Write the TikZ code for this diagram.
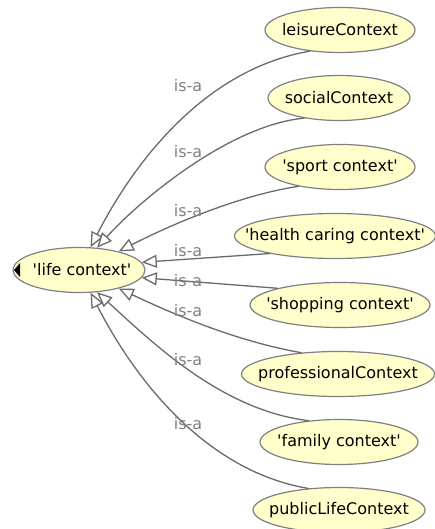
\documentclass[tikz,border=0pt]{standalone}
\usepackage{fontspec}
\setmainfont{DejaVu Sans}[Ligatures=TeXOff]
\usepackage{tikz}
\usetikzlibrary{arrows.meta,shapes.geometric}
\usepackage{xcolor}
\definecolor{clsfill}{HTML}{FFFFCC}
\definecolor{clsborder}{HTML}{808080}
\definecolor{edgegray}{HTML}{6A6A6A}
\definecolor{labelgray}{HTML}{808080}

\begin{document}
\begin{tikzpicture}[x=1pt,y=-1pt,font=\fontsize{16}{19}\selectfont,line cap=round,
  cls/.style={ellipse,draw=clsborder,fill=clsfill,line width=1.2pt,inner xsep=-25pt,inner ysep=0pt,minimum height=45pt},
  isa/.style={draw=edgegray,line width=1.3pt,-{Triangle[length=15pt,width=13pt,fill=white]}},
  isalabel/.style={text=labelgray,inner sep=0pt}]
\useasboundingbox (0,0) rectangle (435,529);
% classes
\node[cls,minimum width=132pt] (life) at (79,270) {\hspace*{6pt}'life context'};
\fill[black] (14,270) -- (20,263) -- (20,277) -- cycle;
\node[cls,minimum width=150pt] (leisure) at (340,30) {leisureContext};
\node[cls,minimum width=142pt] (social) at (339,98) {socialContext};
\node[cls,minimum width=150pt] (sport) at (340,167) {'sport context'};
\node[cls,minimum width=201pt] (health) at (335,236) {'health caring context'};
\node[cls,minimum width=180pt] (shopping) at (340,305) {'shopping context'};
\node[cls,minimum width=193pt] (professional) at (338,374) {professionalContext};
\node[cls,minimum width=158pt] (family) at (339,442) {'family context'};
\node[cls,minimum width=172pt] (public) at (339,510) {publicLifeContext};
% is-a edges
\draw[isa] (leisure.215) .. controls (200,70) and (130,170) .. (life.63);
\draw[isa] (social.210) .. controls (230,125) and (140,200) .. (life.51);
\draw[isa] (sport.205) .. controls (240,195) and (170,225) .. (life.25);
\draw[isa] (health.195) -- (life.7);
\draw[isa] (shopping.165) -- (life.-7);
\draw[isa] (professional.150) .. controls (230,340) and (165,310) .. (life.-25);
\draw[isa] (family.145) .. controls (220,410) and (150,340) .. (life.-51);
\draw[isa] (public.145) .. controls (200,470) and (130,370) .. (life.-63);
% labels
\node[isalabel] (lleisure) at (188,86) {is-a};
\node[isalabel] (lsocial) at (188,152) {is-a};
\node[isalabel] (lsport) at (188,211) {is-a};
\node[isalabel] (lhealth) at (188,251) {is-a};
\node[isalabel] (lshopping) at (188,281) {is-a};
\node[isalabel] (lprofessional) at (188,311) {is-a};
\node[isalabel] (lfamily) at (188,360) {is-a};
\node[isalabel] (lpublic) at (188,424) {is-a};
\end{tikzpicture}
\end{document}
